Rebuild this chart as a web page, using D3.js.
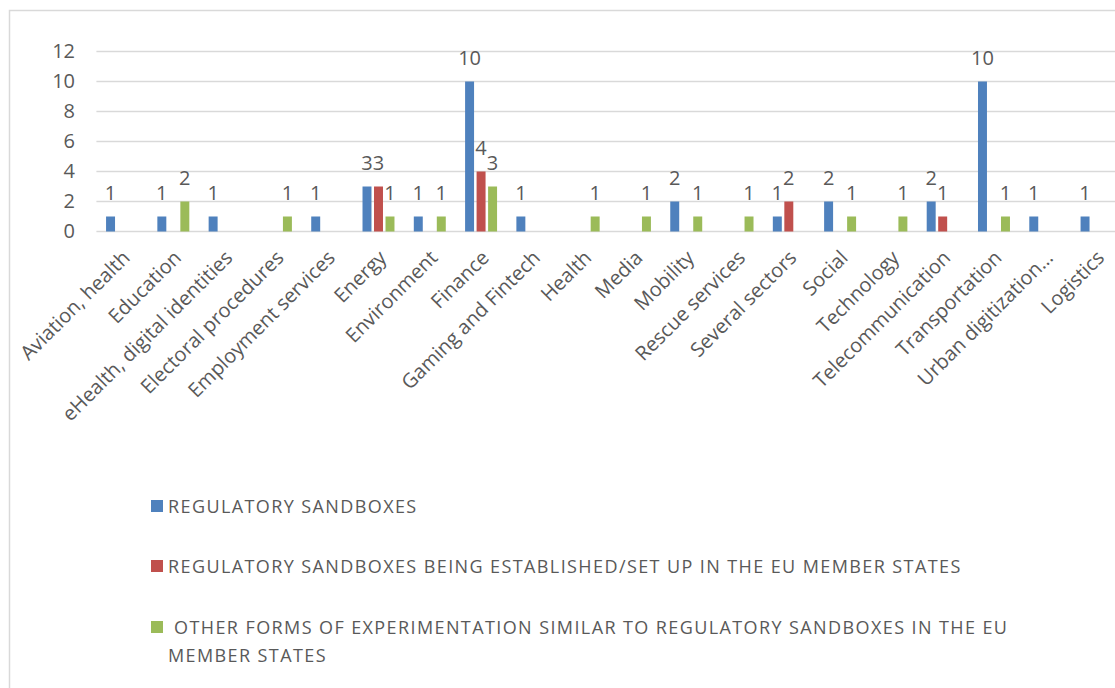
<!DOCTYPE html>
<html><head><meta charset="utf-8">
<script src="https://cdn.jsdelivr.net/npm/d3@7/dist/d3.min.js"></script>
<style>
html,body{margin:0;padding:0;background:#fff;}
svg{display:block;}
text{font-family:"Open Sans","DejaVu Sans",sans-serif;fill:#595959;}
</style></head>
<body>
<svg id="chart" width="1115" height="688"></svg>
<script>
const categories = ["Aviation, health","Education","eHealth, digital identities","Electoral procedures","Employment services","Energy","Environment","Finance","Gaming and Fintech","Health","Media","Mobility","Rescue services","Several sectors","Social","Technology","Telecommunication","Transportation","Urban digitization…","Logistics"];
const seriesNames = ["REGULATORY SANDBOXES","REGULATORY SANDBOXES BEING ESTABLISHED/SET UP IN THE EU MEMBER STATES"," OTHER FORMS OF EXPERIMENTATION SIMILAR TO REGULATORY SANDBOXES IN THE EU MEMBER STATES"];
const sandboxes   = [1,1,1,null,1,3,1,10,1,null,null,2,null,1,2,null,2,10,1,1];
const beingSetUp  = [null,null,null,null,null,3,null,4,null,null,null,null,null,2,null,null,1,null,null,null];
const otherForms  = [null,2,null,1,null,1,1,3,null,1,1,1,1,null,1,1,null,1,null,null];
const yTicks = [0,2,4,6,8,10,12];
const colors = ["#4f81bd","#c0504d","#9bbb59"];

const seriesValues = [sandboxes, beingSetUp, otherForms];
const svg = d3.select("#chart");

// outer chart border
svg.append("rect").attr("x",9.5).attr("y",10.5).attr("width",1300).attr("height",900)
  .attr("fill","none").attr("stroke","#d9d9d9").attr("stroke-width",1.5);

const x = d3.scaleBand().domain(categories).range([96.4,1122.2]).paddingInner(0).paddingOuter(0);
const sub = d3.scaleBand().domain(d3.range(3)).range([0,34.5]).paddingInner(0.22).paddingOuter(0.11);
const y = d3.scaleLinear().domain([0,12]).range([231.5,51.5]);

// gridlines
svg.append("g").selectAll("line").data(yTicks).join("line")
  .attr("x1",96.4).attr("x2",1125).attr("y1",d=>y(d)).attr("y2",d=>y(d))
  .attr("stroke","#d9d9d9").attr("stroke-width",1.5);

// y axis labels
const yAxis = d3.axisLeft(y).tickValues(yTicks).tickSize(0).tickPadding(0).tickFormat(d3.format("d"));
const gy = svg.append("g").attr("transform","translate(75,0)").call(yAxis);
gy.select(".domain").remove();
gy.selectAll("text").style("font-size","20px").attr("fill","#595959").attr("font-family",null);

// bars
const flat = [];
seriesValues.forEach((vals,s)=>vals.forEach((v,i)=>{ if(v!=null) flat.push({s,cat:categories[i],v}); }));
const bx = d => x(d.cat) + x.bandwidth()/2 - 17.25 + sub(d.s);
svg.append("g").selectAll("rect").data(flat).join("rect")
  .attr("x",bx).attr("width",sub.bandwidth())
  .attr("y",d=>y(d.v)).attr("height",d=>y(0)-y(d.v))
  .attr("fill",d=>colors[d.s]);

// data labels
svg.append("g").selectAll("text").data(flat).join("text")
  .attr("x",d=>bx(d)+sub.bandwidth()/2).attr("y",d=>y(d.v)-17)
  .attr("text-anchor","middle").style("font-size","20px").text(d=>d.v);

// category labels
const xAxis = d3.axisBottom(x).tickSize(0).tickPadding(0);
const gx = svg.append("g").call(xAxis);
gx.select(".domain").remove();
gx.selectAll(".tick").attr("transform",d=>`translate(${x(d)+x.bandwidth()/2-1},249)`);
gx.selectAll(".tick text").attr("font-family",null).attr("fill","#595959")
  .style("font-size","20px").attr("text-anchor","end").attr("x",0).attr("y",0)
  .attr("dy","0.71em").attr("transform","rotate(-45)");

// legend
const legendItems = [
  {s:0, lines:[seriesNames[0]], y:513},
  {s:1, lines:[seriesNames[1]], y:573},
  {s:2, lines:[" OTHER FORMS OF EXPERIMENTATION SIMILAR TO REGULATORY SANDBOXES IN THE EU","MEMBER STATES"], y:634}
];
const lg = svg.append("g");
legendItems.forEach(it=>{
  lg.append("rect").attr("x",151).attr("y",it.y-13).attr("width",12).attr("height",12).attr("fill",colors[it.s]);
  const t = lg.append("text").attr("x",168).attr("y",it.y).style("font-size","18px")
    .style("letter-spacing","1.4px").attr("xml:space","preserve");
  it.lines.forEach((l,k)=>{
    t.append("tspan").attr("x",168).attr("y",it.y+k*28).text(l);
  });
});
</script>
</body></html>
